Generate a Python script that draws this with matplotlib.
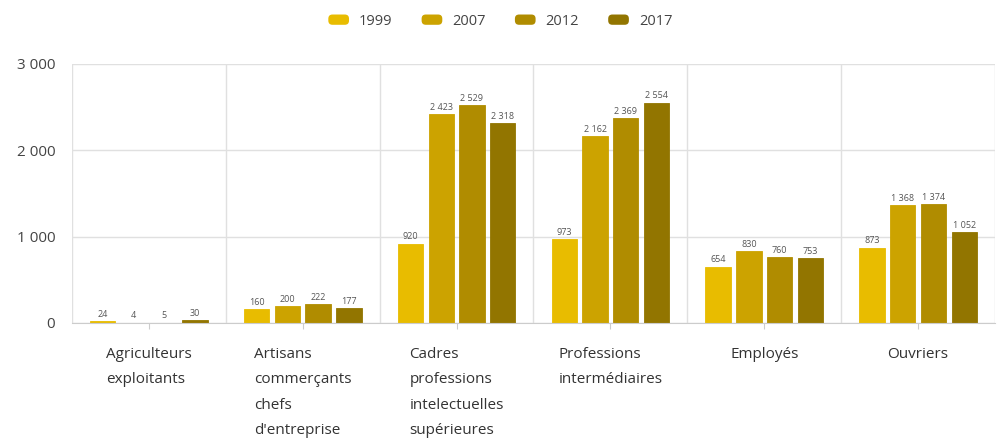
import matplotlib.pyplot as plt
from matplotlib.legend_handler import HandlerPatch
from matplotlib.patches import FancyBboxPatch, Rectangle
import numpy as np

# Data
categories = ["Agriculteurs\nexploitants", "Artisans\ncommerçants\nchefs\nd'entreprise",
              "Cadres\nprofessions\nintelectuelles\nsupérieures", "Professions\nintermédiaires",
              "Employés", "Ouvriers"]
years = ["1999", "2007", "2012", "2017"]
v1999 = [24, 160, 920, 973, 654, 873]
v2007 = [4, 200, 2423, 2162, 830, 1368]
v2012 = [5, 222, 2529, 2369, 760, 1374]
v2017 = [30, 177, 2318, 2554, 753, 1052]
series = [v1999, v2007, v2012, v2017]
colors = ["#E8BC00", "#CCA300", "#B08C00", "#927500"]

plt.rcParams['font.family'] = ['Open Sans', 'DejaVu Sans']

def fmt(v):
    return "{:,}".format(v).replace(",", " ")

# rounded legend keys
class RoundHandler(HandlerPatch):
    def create_artists(self, legend, orig_handle, xdescent, ydescent, width, height, fontsize, trans):
        p = FancyBboxPatch((-xdescent + 2, -ydescent + 1), width - 4, height - 2,
                           boxstyle="round,pad=0,rounding_size=3",
                           facecolor=orig_handle.get_facecolor(), edgecolor='none',
                           transform=trans)
        return [p]

fig = plt.figure(figsize=(9.98, 4.42), dpi=100)
ax = fig.add_axes([72 / 998, 1 - 323 / 442, 923 / 998, 259 / 442])

x = np.arange(len(categories))
step = 0.2
width = 0.165
handles = []
for i, (vals, col, yr) in enumerate(zip(series, colors, years)):
    pos = x + (i - 1.5) * step
    bars = ax.bar(pos, vals, width=width, color=col, edgecolor=col, linewidth=0.6)
    handles.append(Rectangle((0, 0), 1, 1, facecolor=col))
    for b, v in zip(bars, vals):
        ax.text(b.get_x() + b.get_width() / 2, v + 25, fmt(v), ha='center', va='bottom',
                fontsize=6.5, color='#555555')

ax.set_xlim(-0.5, len(categories) - 0.5)
ax.set_ylim(0, 3000)
ax.set_yticks([0, 1000, 2000, 3000])
ax.set_yticklabels([fmt(t) for t in [0, 1000, 2000, 3000]])
ax.set_xticks(x)
ax.set_xticklabels(categories, multialignment='left', linespacing=1.95)
ax.set_xticks(np.arange(-0.5, len(categories)), minor=True)

ax.grid(axis='y', color='#e0e0e0', linewidth=1)
ax.grid(axis='x', which='minor', color='#e0e0e0', linewidth=1)
ax.set_axisbelow(True)
for s in ['top', 'right', 'left']:
    ax.spines[s].set_visible(False)
ax.spines['bottom'].set_color('#cccccc')
ax.tick_params(axis='y', length=0, labelsize=11, labelcolor='#444444', pad=12)
ax.tick_params(axis='x', which='major', length=4, color='#cccccc', labelsize=11,
               labelcolor='#333333', pad=13)
ax.tick_params(axis='x', which='minor', length=0)

fig.legend(handles, years, handler_map={Rectangle: RoundHandler()},
           loc='upper center', bbox_to_anchor=(0.5, 1.0), ncol=4, frameon=False,
           fontsize=10.5, handlelength=1.8, handleheight=1.0, columnspacing=1.8,
           handletextpad=0.5, labelcolor='#444444')

fig.savefig('out.png', dpi=100)
